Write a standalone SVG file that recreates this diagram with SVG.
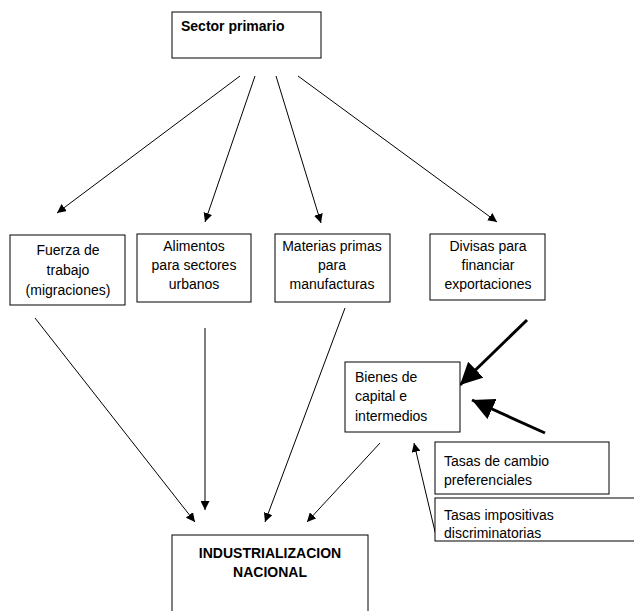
<svg xmlns="http://www.w3.org/2000/svg" width="634" height="611" viewBox="0 0 634 611">
<defs>
<marker id="ah" viewBox="0 0 10 10" refX="10" refY="5" markerWidth="9" markerHeight="9" markerUnits="userSpaceOnUse" orient="auto"><path d="M0,0 L10,5 L0,10 z" fill="#000"/></marker>
<marker id="ahb" viewBox="0 0 10 10" refX="10" refY="5" markerWidth="22" markerHeight="22" markerUnits="userSpaceOnUse" orient="auto"><path d="M0,0 L10,5 L0,10 z" fill="#000"/></marker>
</defs>
<style>
.box{fill:#fff;stroke:#000;stroke-width:1}
.t{font-family:"Liberation Sans",Arial,sans-serif;font-size:14px;fill:#000}
.c{text-anchor:middle}
.b{font-weight:bold;font-size:14px}
.ln{stroke:#000;stroke-width:1;fill:none;marker-end:url(#ah)}
.lb{stroke:#000;stroke-width:3;fill:none;marker-end:url(#ahb)}
</style>
<rect width="634" height="611" fill="#fff"/>
<g id="connectors">
<line class="ln" x1="240" y1="76" x2="57" y2="213"/>
<line class="ln" x1="255" y1="76" x2="205" y2="222"/>
<line class="ln" x1="276" y1="76" x2="321" y2="223"/>
<line class="ln" x1="298" y1="76" x2="497" y2="222"/>
<line class="ln" x1="35" y1="318" x2="195" y2="522"/>
<line class="ln" x1="205" y1="328" x2="205" y2="510"/>
<line class="ln" x1="345" y1="308" x2="265" y2="522"/>
<line class="ln" x1="380" y1="443" x2="307" y2="522"/>
<line class="lb" x1="527" y1="320" x2="460" y2="385"/>
<line class="lb" x1="545" y1="433" x2="472" y2="400"/>
<line class="ln" x1="437" y1="540" x2="414" y2="443"/>
</g>
<g id="sector-primario">
<rect class="box" x="172" y="12" width="149" height="46"/>
<text class="t b" x="181" y="31">Sector primario</text>
</g>
<g id="fuerza-trabajo">
<rect class="box" x="10" y="235" width="115" height="70"/>
<text class="t c" x="68" y="255">Fuerza de</text>
<text class="t c" x="68" y="275">trabajo</text>
<text class="t c" x="68" y="295">(migraciones)</text>
</g>
<g id="alimentos">
<rect class="box" x="137" y="234" width="114" height="68"/>
<text class="t c" x="194" y="251">Alimentos</text>
<text class="t c" x="194" y="270">para sectores</text>
<text class="t c" x="194" y="289">urbanos</text>
</g>
<g id="materias-primas">
<rect class="box" x="275" y="234" width="115" height="68"/>
<text class="t c" x="332" y="251">Materias primas</text>
<text class="t c" x="332" y="270">para</text>
<text class="t c" x="332" y="289">manufacturas</text>
</g>
<g id="divisas">
<rect class="box" x="430" y="234" width="115" height="66"/>
<text class="t c" x="488" y="251">Divisas para</text>
<text class="t c" x="488" y="270">financiar</text>
<text class="t c" x="488" y="289">exportaciones</text>
</g>
<g id="bienes-capital">
<rect class="box" x="345" y="362" width="115" height="70"/>
<text class="t" x="355" y="382">Bienes de</text>
<text class="t" x="355" y="401">capital e</text>
<text class="t" x="355" y="421">intermedios</text>
</g>
<g id="tasas-cambio">
<rect class="box" x="435" y="442" width="174" height="52"/>
<text class="t" x="444" y="466">Tasas de cambio</text>
<text class="t" x="444" y="485">preferenciales</text>
</g>
<g id="tasas-impositivas">
<rect class="box" x="435" y="498" width="210" height="43"/>
<text class="t" x="444" y="520">Tasas impositivas</text>
<text class="t" x="444" y="538">discriminatorias</text>
</g>
<g id="industrializacion">
<rect class="box" x="172" y="535" width="196" height="80"/>
<text class="t c b" x="270" y="558">INDUSTRIALIZACION</text>
<text class="t c b" x="270" y="577">NACIONAL</text>
</g>
</svg>
